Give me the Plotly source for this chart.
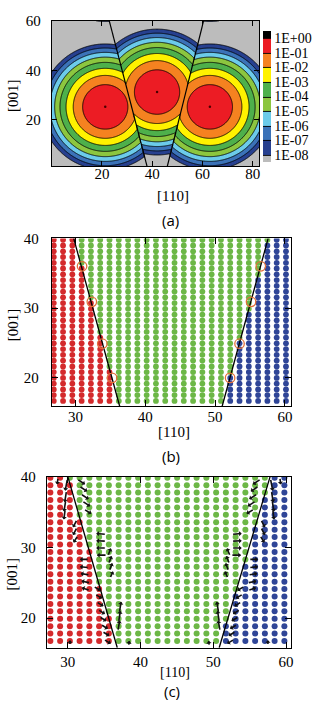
import numpy as np
import plotly.graph_objects as go

W, H = 327, 713
SERIF = "Liberation Serif, Times New Roman, Times, serif"
SANS = "Open Sans, Noto Sans, sans-serif"

# ---------------- panel (a): log10 density map of three sites ----------------
site_x = [21.3, 41.9, 62.9]
site_y = [25.2, 31.2, 25.2]
decade_radius = 9.0          # log10(rho) = -(r / decade_radius)^2
cell_height = 60.0           # periodic repeat along [001]
wall_a_y = [1.2, 60.0]
wall_a_left_x = [37.9, 22.9]
wall_a_right_x = [46.0, 60.4]

decade_vals = [-8, -7, -6, -5, -4, -3, -2, -1, 0]
decade_text = ["1E-08", "1E-07", "1E-06", "1E-05", "1E-04",
               "1E-03", "1E-02", "1E-01", "1E+00"]
# bands from below 1E-08 up to above 1E+00
band_colors = ["#bcbcbc", "#27408f", "#3b72b8", "#6ccbea", "#8cc63f",
               "#4eb04b", "#fff200", "#f58220", "#ec1c24", "#000000"]

# ---------------- panel (b): site assignment with marked crossings ----------------
lat_b_x = [26.90, 28.23, 29.56, 30.89, 32.22, 33.55, 34.88, 36.21, 37.54, 38.87,
           40.20, 41.53, 42.86, 44.19, 45.52, 46.85, 48.18, 49.51, 50.84, 52.17,
           53.50, 54.83, 56.16, 57.49, 58.82, 60.15]
lat_b_y = [39.80, 38.98, 38.15, 37.33, 36.50, 35.68, 34.85, 34.03, 33.20, 32.38,
           31.55, 30.73, 29.90, 29.08, 28.25, 27.43, 26.60, 25.78, 24.95, 24.13,
           23.30, 22.48, 21.65, 20.83, 20.00, 19.18, 18.35, 17.53, 16.70]
wall_b_y = [15.9, 40.0]
wall_b_left_x = [36.35, 29.75]
wall_b_right_x = [51.0, 57.6]
mark_x = [30.95, 32.35, 33.85, 35.25, 56.55, 55.15, 53.50, 52.15]
mark_y = [36.0, 30.9, 24.9, 20.0, 36.0, 30.9, 24.9, 20.0]

# ---------------- panel (c): site assignment with displacement arrows ----------------
lat_c_x = [27.60, 28.94, 30.28, 31.62, 32.96, 34.30, 35.64, 36.98, 38.32, 39.66,
           41.00, 42.34, 43.68, 45.02, 46.36, 47.70, 49.04, 50.38, 51.72, 53.06,
           54.40, 55.74, 57.08, 58.42, 59.76]
lat_c_y = [39.85, 38.80, 37.75, 36.70, 35.65, 34.60, 33.55, 32.50, 31.45, 30.40,
           29.35, 28.30, 27.25, 26.20, 25.15, 24.10, 23.05, 22.00, 20.95, 19.90,
           18.85, 17.80, 16.75]
wall_c_y = [15.8, 40.0]
wall_c_left_x = [36.8, 30.0]
wall_c_right_x = [50.8, 57.8]

# arrow centres and vectors
arrow_x = [28.6, 29.8, 29.7, 29.6, 29.55,
           31.8, 32.1, 32.3, 32.5, 32.7,
           31.0, 31.0, 31.1,
           34.6, 34.6, 34.6, 34.7,
           32.3, 32.3, 32.4, 32.5, 32.5,
           35.7, 35.8, 35.9, 36.0,
           34.0, 34.2, 34.4, 34.6, 34.8, 35.0, 35.2, 35.4,
           37.2, 37.1, 37.0,
           30.3, 38.4,
           59.2, 58.0, 58.1, 58.2, 58.25,
           56.0, 55.7, 55.5, 55.3, 55.1,
           56.8, 56.8, 56.7,
           53.2, 53.2, 53.2, 53.1,
           55.5, 55.5, 55.4, 55.3, 55.3,
           52.1, 52.0, 51.9, 51.8,
           53.8, 53.6, 53.4, 53.2, 53.0, 52.8, 52.6, 52.4,
           50.6, 50.7, 50.8,
           57.5, 49.4]
arrow_y = [39.4, 38.9, 37.2, 35.9, 34.7,
           39.3, 38.3, 37.2, 36.2, 35.1,
           33.4, 32.3, 31.2,
           31.9, 30.9, 29.9, 28.9,
           28.3, 27.2, 26.2, 25.1, 24.1,
           29.3, 28.2, 27.2, 26.1,
           24.2, 23.1, 22.0, 20.9, 19.9, 18.8, 17.8, 16.7,
           21.5, 20.2, 18.9,
           16.5, 16.4,
           39.4, 38.9, 37.2, 35.9, 34.7,
           39.3, 38.3, 37.2, 36.2, 35.1,
           33.4, 32.3, 31.2,
           31.9, 30.9, 29.9, 28.9,
           28.3, 27.2, 26.2, 25.1, 24.1,
           29.3, 28.2, 27.2, 26.1,
           24.2, 23.1, 22.0, 20.9, 19.9, 18.8, 17.8, 16.7,
           21.5, 20.2, 18.9,
           16.5, 16.4]
arrow_u = [-0.1, -0.25, -0.2, -0.2, -0.15,
           0.9, 0.9, 0.9, 0.9, 0.85,
           -0.45, -0.45, -0.5,
           -1.1, -1.1, -1.1, -1.1,
           -1.0, -1.0, -1.0, -1.0, -0.9,
           0.35, 0.35, 0.35, 0.35,
           0.8, 0.8, 0.8, 0.8, 0.8, 0.8, 0.8, 0.8,
           0.2, 0.2, 0.2,
           0.0, 0.1,
           0.1, 0.25, 0.2, 0.2, 0.15,
           -0.9, -0.9, -0.9, -0.9, -0.85,
           0.45, 0.45, 0.5,
           1.1, 1.1, 1.1, 1.1,
           1.0, 1.0, 1.0, 1.0, 0.9,
           -0.35, -0.35, -0.35, -0.35,
           -0.8, -0.8, -0.8, -0.8, -0.8, -0.8, -0.8, -0.8,
           -0.2, -0.2, -0.2,
           0.0, -0.1]
arrow_v = [-0.8, -1.4, -1.3, -1.3, -1.2,
           -0.6, -0.6, -0.6, -0.6, -0.55,
           -0.9, -0.9, -0.8,
           0.1, 0.05, 0.0, 0.0,
           0.0, 0.1, 0.15, 0.2, 0.3,
           0.9, 0.9, 0.9, 0.8,
           -0.5, -0.5, -0.5, -0.5, -0.5, -0.5, -0.5, -0.5,
           1.3, 1.3, 1.2,
           0.6, 0.6,
           -0.8, -1.4, -1.3, -1.3, -1.2,
           -0.6, -0.6, -0.6, -0.6, -0.55,
           -0.9, -0.9, -0.8,
           0.1, 0.05, 0.0, 0.0,
           0.0, 0.1, 0.15, 0.2, 0.3,
           0.9, 0.9, 0.9, 0.8,
           -0.5, -0.5, -0.5, -0.5, -0.5, -0.5, -0.5, -0.5,
           1.3, 1.3, 1.2,
           0.6, 0.6]
quiver_scale = 1.25

RED, GREEN, BLUE = "#d42a2c", "#6cb746", "#2f4597"

fig = go.Figure()

# ---- (a) contour map ----
gx = np.linspace(0.0, 82.6, 414)
gy = np.linspace(1.2, 60.0, 295)
X, Y = np.meshgrid(gx, gy)
xl = np.interp(Y, wall_a_y, wall_a_left_x)
xr = np.interp(Y, wall_a_y, wall_a_right_x)
owner = np.where(X < xl, 0, np.where(X > xr, 2, 1))
sx = np.array(site_x)[owner]
sy = np.array(site_y)[owner]
r2 = np.minimum((X - sx) ** 2 + (Y - sy) ** 2,
                (X - sx) ** 2 + (Y - sy - cell_height) ** 2)
logrho = -r2 / decade_radius ** 2

nb = len(band_colors) - 1
fig.add_trace(go.Contour(
    x=gx, y=gy, z=logrho, xaxis="x", yaxis="y",
    autocontour=False,
    contours=dict(start=decade_vals[0], end=decade_vals[-1], size=1, coloring="fill"),
    colorscale=[[i / nb, c] for i, c in enumerate(band_colors)],
    line=dict(color="black", width=0.9, smoothing=0),
    colorbar=dict(x=265 / W, xanchor="left", y=1 - 89.5 / H, yanchor="middle",
                  len=131, lenmode="pixels", thickness=8, thicknessmode="pixels",
                  tickvals=decade_vals, ticktext=decade_text, ticks="",
                  tickfont=dict(family=SERIF, size=14, color="black"),
                  outlinewidth=0, xpad=0, ypad=0),
    hoverinfo="skip",
))
fig.add_trace(go.Scatter(x=wall_a_left_x, y=wall_a_y, mode="lines", xaxis="x", yaxis="y",
                         line=dict(color="black", width=1.2), showlegend=False))
fig.add_trace(go.Scatter(x=wall_a_right_x, y=wall_a_y, mode="lines", xaxis="x", yaxis="y",
                         line=dict(color="black", width=1.2), showlegend=False))
fig.add_trace(go.Scatter(x=site_x, y=site_y, mode="markers", xaxis="x", yaxis="y",
                         marker=dict(size=2.5, color="#4a0000"), showlegend=False))


def lattice_traces(lx, ly, wy, wl, wr, xa, ya, msize):
    PX, PY = np.meshgrid(np.array(lx), np.array(ly))
    PX, PY = PX.ravel(), PY.ravel()
    left = np.interp(PY, wy, wl)
    right = np.interp(PY, wy, wr)
    groups = [(PX < left, RED), (PX > right, BLUE),
              ((PX >= left) & (PX <= right), GREEN)]
    for mask, col in groups:
        fig.add_trace(go.Scatter(x=PX[mask], y=PY[mask], mode="markers",
                                 xaxis=xa, yaxis=ya, showlegend=False,
                                 marker=dict(size=msize, color=col, line=dict(width=0))))
    for wx in (wl, wr):
        fig.add_trace(go.Scatter(x=wx, y=wy, mode="lines", xaxis=xa, yaxis=ya,
                                 showlegend=False, line=dict(color="black", width=1.3)))


# ---- (b) ----
lattice_traces(lat_b_x, lat_b_y, wall_b_y, wall_b_left_x, wall_b_right_x, "x2", "y2", 5.8)
fig.add_trace(go.Scatter(x=mark_x, y=mark_y, mode="markers", xaxis="x2", yaxis="y2",
                         showlegend=False,
                         marker=dict(symbol="circle-open", size=9.5, color="#e2703a",
                                     line=dict(width=1.3, color="#e2703a"))))

# ---- (c) ----
lattice_traces(lat_c_x, lat_c_y, wall_c_y, wall_c_left_x, wall_c_right_x, "x3", "y3", 6)
for cx, cy, u, v in zip(arrow_x, arrow_y, arrow_u, arrow_v):
    hu, hv = 0.5 * quiver_scale * u, 0.5 * quiver_scale * v
    fig.add_annotation(x=cx + hu, y=cy + hv, ax=cx - hu, ay=cy - hv,
                       xref="x3", yref="y3", axref="x3", ayref="y3",
                       text="", showarrow=True, arrowhead=1, arrowsize=0.55,
                       arrowwidth=1.6, arrowcolor="#111111", standoff=0, startstandoff=0)


def axis(domain, rng, tickvals, anchor, standoff, ticklen=5):
    return dict(domain=domain, range=rng, tickvals=tickvals, anchor=anchor,
                showgrid=False, zeroline=False, showline=True, linecolor="black",
                linewidth=1, mirror="ticks", ticks="inside", ticklen=ticklen,
                tickcolor="black", tickwidth=1,
                tickfont=dict(family=SERIF, size=15, color="black"),
                ticklabelstandoff=standoff)


fig.update_layout(
    width=W, height=H, margin=dict(l=0, r=0, t=0, b=0),
    paper_bgcolor="white", plot_bgcolor="white", showlegend=False,
    xaxis=axis([52 / W, 261 / W], [0.0, 82.6], [20, 40, 60, 80], "y", -6),
    yaxis=axis([1 - 160 / H, 1 - 13 / H], [1.2, 60.0], [20, 40, 60], "x", 7),
    xaxis2=axis([52 / W, 293 / W], [26.6, 60.9], [30, 40, 50, 60], "y2", -3, 6),
    yaxis2=axis([1 - 403 / H, 1 - 233 / H], [15.9, 40.0], [20, 30, 40], "x2", 9, 6),
    xaxis3=axis([47 / W, 293 / W], [27.1, 60.7], [30, 40, 50, 60], "y3", 0, 6),
    yaxis3=axis([1 - 647 / H, 1 - 474 / H], [15.8, 40.0], [20, 30, 40], "x3", 7, 6),
)

texts = [
    ("[110]", 174, 190, 0, SERIF, 15),
    ("[001]", 13, 88, -90, SERIF, 15),
    ("(a)", 172, 214, 0, SANS, 15),
    ("[110]", 175, 429, 0, SERIF, 15),
    ("[001]", 13, 320, -90, SERIF, 15),
    ("(b)", 172, 453, 0, SANS, 15),
    ("[110]", 176, 672, 0, SERIF, 14),
    ("[001]", 12, 572, -90, SERIF, 15),
    ("(c)", 173, 691, 0, SANS, 15),
]
for t, px, py, ang, fam, fs in texts:
    fig.add_annotation(text=t, x=px / W, y=1 - py / H, xref="paper", yref="paper",
                       showarrow=False, textangle=ang, xanchor="center", yanchor="middle",
                       font=dict(family=fam, size=fs, color="black"))

fig.write_html("out.html")
